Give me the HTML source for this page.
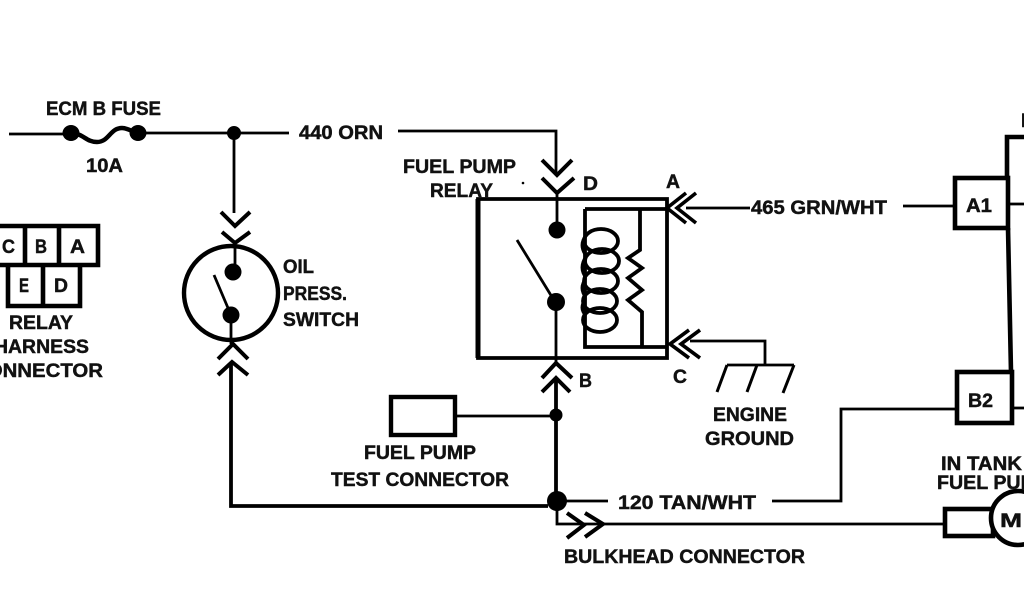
<!DOCTYPE html>
<html><head><meta charset="utf-8"><style>
html,body{margin:0;padding:0;background:#fff;width:1024px;height:600px;overflow:hidden}
svg{display:block}
text{font-family:"Liberation Sans",sans-serif;font-weight:bold;font-size:19px;fill:#111;stroke:#111;stroke-width:.45}
.l{fill:none;stroke:#000;stroke-width:2.8}
.t{fill:none;stroke:#000;stroke-width:3.8}
.c{fill:none;stroke:#000;stroke-width:4}
</style></head><body>
<svg width="1024" height="600" viewBox="0 0 1024 600" xmlns="http://www.w3.org/2000/svg">
<!-- top wire and fuse -->
<path class="l" d="M9 134H72M138 133H289M234 133V213M398 131H556V174"/>
<path class="t" style="stroke-width:4.5" d="M72 133C84 134 86 142 97 142C109 142 110 128 122 128C128 128 132 132 138 133"/>
<ellipse cx="71" cy="133" rx="8.5" ry="8"/><ellipse cx="138" cy="133" rx="8.5" ry="8"/><circle cx="234" cy="133" r="7"/>
<!-- oil switch -->
<path class="c" d="M221 212L235 226L250 212M222 232L235 243L250 232"/>
<circle class="t" style="stroke-width:4.4" cx="231" cy="293" r="47"/>
<circle cx="233" cy="272" r="8.5"/><circle cx="231" cy="315" r="8.5"/>
<path class="l" d="M235 243V272M214 275L228 308M231 315V344"/>
<path class="c" d="M218 359L233 344L248 359M218 375L232 362L248 375"/>
<path class="t" d="M231 362V506H548"/>
<!-- connector block -->
<path class="t" style="stroke-width:4.6" d="M-5 226H98V265H-5M25 226V265M59 226V265M8 265V306H80V265M43 265V306"/>
<!-- relay -->
<path class="t" d="M478 199H667V358H478Z"/>
<path class="t" style="stroke-width:5" d="M478 199V358"/>
<path class="t" d="M585 209H667M585 209V347H667M640 209V250L628 258L642 268L628 278L642 290L628 300L642 312V347"/>
<path class="c" d="M542 160L557 175L572 160M542 178L557 193L574 178"/>
<path class="l" d="M557 193V230M517 240L552 297M556 302V363"/>
<circle cx="557" cy="230" r="8.5"/><circle cx="556" cy="302" r="9"/>
<circle cx="523" cy="183" r="1.3"/>
<ellipse class="t" cx="601" cy="241" rx="17" ry="12"/>
<ellipse class="t" cx="602" cy="261" rx="17" ry="12"/>
<ellipse class="t" cx="601" cy="281" rx="17" ry="12"/>
<ellipse class="t" cx="600" cy="301" rx="17" ry="12"/>
<ellipse class="t" cx="600" cy="320" rx="17" ry="12"/>
<path class="l" d="M586 235Q578 245 586 256M586 256Q578 268 586 278M586 278Q578 288 586 298M586 298Q578 308 586 316"/>
<path class="c" style="stroke-width:3.6" d="M686 193L667 208L686 223M696 193L677 208L696 223"/>
<path class="c" style="stroke-width:3.6" d="M689 330L670 344L689 358M700 330L681 344L700 358"/>
<path class="l" d="M686 208H750M690 341H765V365M727 365H794M903 206H955"/>
<path class="t" style="stroke-width:3" d="M727 365L717 392M757 365L747 392M794 365L783 393"/>
<path class="c" d="M542 378L556 363L572 378M542 392L556 378L570 392"/>
<path class="t" d="M556 378V501"/>
<circle cx="556" cy="415" r="6.5"/><circle cx="557" cy="501" r="10"/>
<!-- test connector -->
<rect class="t" style="stroke-width:4.4" x="391" y="397" width="64" height="38"/>
<path class="l" d="M455 416H556M557 501H608M772 501H841V409H955M557 501V524H603H944"/>
<path class="c" d="M567 513L584 525L567 538M585 513L603 524L585 537"/>
<!-- right modules -->
<rect class="t" style="stroke-width:4.6" x="955" y="178" width="53" height="50"/>
<rect class="t" style="stroke-width:4.6" x="957" y="372" width="55" height="51"/>
<path class="t" style="stroke-width:4.6" d="M1024 137H1007V178M1008 228L1011 372"/>
<path class="l" d="M1012 408H1024M1010 204H1024"/>
<rect class="t" style="stroke-width:4.6" x="945" y="509" width="48" height="27"/>
<circle class="t" style="stroke-width:4.6;fill:#fff" cx="1018" cy="518" r="27"/>
<!-- labels -->
<text x="46" y="115" textLength="115" lengthAdjust="spacingAndGlyphs">ECM B FUSE</text>
<text x="86" y="172" textLength="37" lengthAdjust="spacingAndGlyphs">10A</text>
<text x="299" y="139" textLength="84" lengthAdjust="spacingAndGlyphs">440 ORN</text>
<text x="403" y="173" textLength="113" lengthAdjust="spacingAndGlyphs">FUEL PUMP</text>
<text x="430" y="197" textLength="63" lengthAdjust="spacingAndGlyphs">RELAY</text>
<text x="583" y="190" textLength="15" lengthAdjust="spacingAndGlyphs">D</text>
<text x="666" y="188" textLength="14" lengthAdjust="spacingAndGlyphs">A</text>
<text x="579" y="387" textLength="13" lengthAdjust="spacingAndGlyphs">B</text>
<text x="673" y="383" textLength="14" lengthAdjust="spacingAndGlyphs">C</text>
<text x="751" y="214" textLength="136" lengthAdjust="spacingAndGlyphs">465 GRN/WHT</text>
<text x="966" y="212" textLength="26" lengthAdjust="spacingAndGlyphs">A1</text>
<text x="968" y="407" textLength="25" lengthAdjust="spacingAndGlyphs">B2</text>
<text x="283" y="273" textLength="31" lengthAdjust="spacingAndGlyphs">OIL</text>
<text x="283" y="300" textLength="64" lengthAdjust="spacingAndGlyphs">PRESS.</text>
<text x="283" y="326" textLength="76" lengthAdjust="spacingAndGlyphs">SWITCH</text>
<text x="2" y="253" textLength="13" lengthAdjust="spacingAndGlyphs">C</text>
<text x="35" y="253" textLength="12" lengthAdjust="spacingAndGlyphs">B</text>
<text x="70" y="253" textLength="15" lengthAdjust="spacingAndGlyphs">A</text>
<text x="19" y="292" textLength="10" lengthAdjust="spacingAndGlyphs">E</text>
<text x="54" y="292" textLength="14" lengthAdjust="spacingAndGlyphs">D</text>
<text x="9" y="329" textLength="64" lengthAdjust="spacingAndGlyphs">RELAY</text>
<text x="-6" y="353" textLength="95" lengthAdjust="spacingAndGlyphs">HARNESS</text>
<text x="-28" y="377" textLength="131" lengthAdjust="spacingAndGlyphs">CONNECTOR</text>
<text x="713" y="421" textLength="74" lengthAdjust="spacingAndGlyphs">ENGINE</text>
<text x="705" y="445" textLength="89" lengthAdjust="spacingAndGlyphs">GROUND</text>
<text x="364" y="459" textLength="112" lengthAdjust="spacingAndGlyphs">FUEL PUMP</text>
<text x="331" y="486" textLength="178" lengthAdjust="spacingAndGlyphs">TEST CONNECTOR</text>
<text x="618" y="509" textLength="138" lengthAdjust="spacingAndGlyphs">120 TAN/WHT</text>
<text x="564" y="563" textLength="241" lengthAdjust="spacingAndGlyphs">BULKHEAD CONNECTOR</text>
<text x="941" y="470" textLength="81" lengthAdjust="spacingAndGlyphs">IN TANK</text>
<text x="937" y="489" textLength="113" lengthAdjust="spacingAndGlyphs">FUEL PUMP</text>
<text x="1000" y="527" textLength="22" lengthAdjust="spacingAndGlyphs">M</text>
<text x="1021" y="127">I</text>
</svg>
</body></html>
